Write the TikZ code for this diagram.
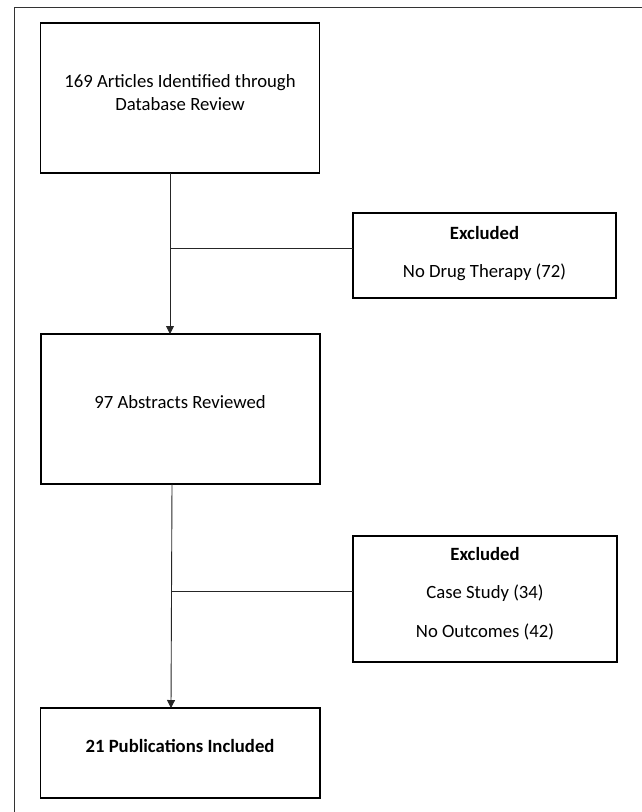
\documentclass[tikz,border=0pt]{standalone}
\usepackage{fontspec}
\setmainfont{Carlito}
\usetikzlibrary{arrows.meta}
\begin{document}
\begin{tikzpicture}[x=1pt,y=-1pt,
  boxstyle/.style={draw=black,line width=1.4pt,rectangle},
  txt/.style={inner sep=0pt,font=\fontsize{18.7}{22}\selectfont,anchor=base},
  conn/.style={draw=black!85,line width=0.9pt},
  arr/.style={conn,-{Triangle[length=8pt,width=8pt]}}
]
\useasboundingbox (0,0) rectangle (642,812);
\draw[line width=1pt,black!80] (14,812) -- (14,7) -- (642,7);
% boxes
\draw[boxstyle] (40.7,23) rectangle (319.5,173);
\coordinate (b1s) at (170,173);
\draw[boxstyle] (41,334) rectangle (320,484);
\coordinate (b2n) at (170,334);
\coordinate (b2s) at (172,484);
\draw[boxstyle] (40.7,708) rectangle (320,798);
\coordinate (b3n) at (171,708);
\draw[boxstyle] (353,213) rectangle (616,298);
\coordinate (e1w) at (353,248);
\draw[boxstyle] (353,536) rectangle (617,662);
\coordinate (e2w) at (353,591);
\coordinate (j1) at (170,248);
\coordinate (j2) at (172,591);
% texts
\node[txt] (t1a) at (180,87) {169 Articles Identified through};
\node[txt] (t1b) at (180,110) {Database Review};
\node[txt] (t2) at (180,408) {97 Abstracts Reviewed};
\node[txt] (t3) at (180,752) {\bfseries 21 Publications Included};
\node[txt] (e1a) at (484.5,239) {\bfseries Excluded};
\node[txt] (e1b) at (484.5,277) {No Drug Therapy (72)};
\node[txt] (e2a) at (485,560) {\bfseries Excluded};
\node[txt] (e2b) at (485,598) {Case Study (34)};
\node[txt] (e2c) at (485,637) {No Outcomes (42)};
% connectors
\draw[arr] (b1s) -- (b2n);
\draw[conn] (j1) -- (e1w);
\draw[arr] (b2s) -- (b3n);
\draw[conn] (j2) -- (e2w);
\end{tikzpicture}
\end{document}
